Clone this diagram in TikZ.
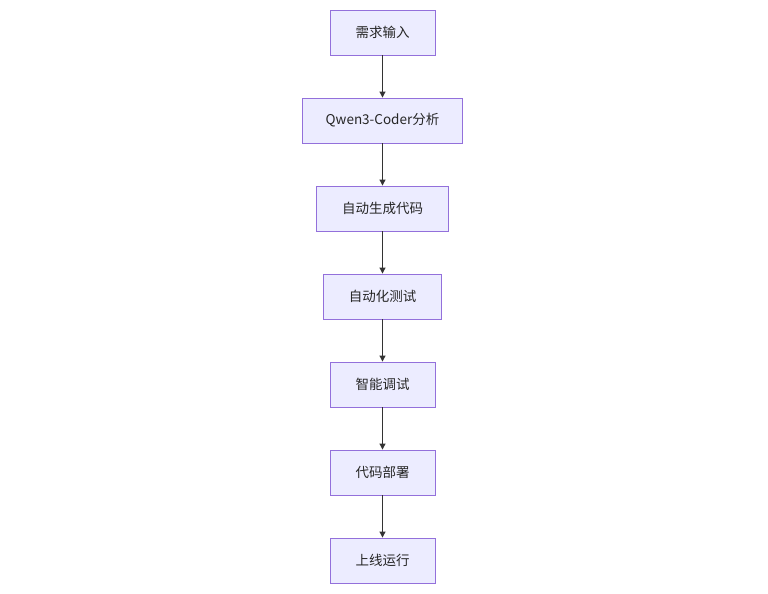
\documentclass[tikz,border=0pt]{standalone}
\usepackage{fontspec}
\setmainfont{Noto Sans CJK SC}
\usetikzlibrary{arrows.meta}
\definecolor{nodefill}{HTML}{ECECFF}
\definecolor{nodedraw}{HTML}{9370DB}
\definecolor{edge}{HTML}{333333}
\begin{document}
\begin{tikzpicture}[x=1pt,y=-1pt,
  box/.style={draw=nodedraw,fill=nodefill,line width=0.9pt,minimum height=45pt,inner sep=0pt,
    font=\fontsize{13.5}{16}\selectfont,text=black!85},
  flow/.style={draw=edge,line width=1pt,-{Triangle[length=6pt,width=6pt]}}]
\fill[white] (0,0) rectangle (768,594);
\useasboundingbox (0,0) rectangle (768,594);
\node[box,minimum width=105pt] (a) at (382.5,32.5) {需求输入};
\node[box,minimum width=160pt] (b) at (382.5,120.5) {Qwen3-Coder分析};
\node[box,minimum width=132pt] (c) at (382.5,208.5) {自动生成代码};
\node[box,minimum width=118pt] (d) at (382.5,296.5) {自动化测试};
\node[box,minimum width=105pt] (e) at (382.5,384.5) {智能调试};
\node[box,minimum width=105pt] (f) at (382.5,472.5) {代码部署};
\node[box,minimum width=105pt] (g) at (382.5,560.5) {上线运行};
\draw[flow] (a) -- (b);
\draw[flow] (b) -- (c);
\draw[flow] (c) -- (d);
\draw[flow] (d) -- (e);
\draw[flow] (e) -- (f);
\draw[flow] (f) -- (g);
\end{tikzpicture}
\end{document}
